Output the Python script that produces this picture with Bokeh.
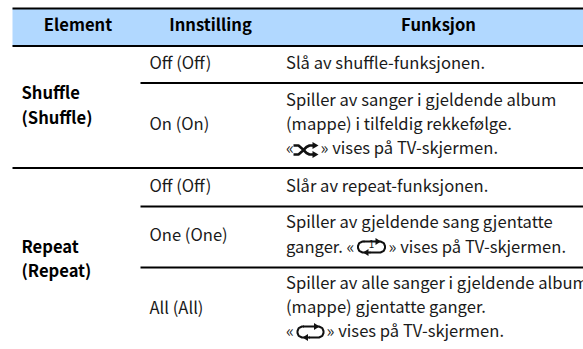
from bokeh.plotting import figure
from bokeh.embed import file_html
from bokeh.resources import INLINE
from bokeh.core.properties import value
from bokeh.models import Range1d

FONT = "Noto Sans CJK JP"
headers = ["Element", "Innstilling", "Funksjon"]
header_x = [77.5, 210, 438]
element_labels = ["Shuffle", "(Shuffle)", "Repeat", "(Repeat)"]
element_y = [91.5, 116, 245.5, 269.5]
setting_labels = ["Off (Off)", "On (On)", "Off (Off)", "One (One)", "All (All)"]
setting_y = [61.5, 122.5, 184.5, 233.5, 306.5]
function_labels = ["Slå av shuffle-funksjonen.", "Spiller av sanger i gjeldende album",
                   "(mappe) i tilfeldig rekkefølge.", "«", "» vises på TV-skjermen.",
                   "Slår av repeat-funksjonen.", "Spiller av gjeldende sang gjentatte",
                   "ganger. «", "» vises på TV-skjermen.",
                   "Spiller av alle sanger i gjeldende album", "(mappe) gjentatte ganger.",
                   "«", "» vises på TV-skjermen."]
function_x = [285.5, 285.5, 285.5, 285.5, 320, 285.5, 285.5, 285.5, 388, 285.5, 285.5, 285.5, 326]
function_y = [61.5, 98.5, 122.5, 146.5, 146.5, 184.5, 220.5, 245, 245, 281, 305.5, 329.5, 329.5]
full_rules_y = [8, 45.5, 167.5]
inner_rules_y = [82.5, 206, 267]

p = figure(width=583, height=349, output_backend="svg", toolbar_location=None,
           x_range=Range1d(0, 583), y_range=Range1d(349, 0),
           min_border=0, outline_line_color=None, background_fill_color="white",
           border_fill_color="white")
p.axis.visible = False
p.grid.visible = False

p.quad(left=[12], right=[583], top=[8], bottom=[45.5], fill_color="#B1D8FF", line_color=None)
p.segment(x0=[12]*3, x1=[583]*3, y0=full_rules_y, y1=full_rules_y, line_color="#000000", line_width=1.8)
p.segment(x0=[140]*3, x1=[583]*3, y0=inner_rules_y, y1=inner_rules_y, line_color="#000000", line_width=1.8)

SIZE = "16.6px"
common = dict(text_font=value(FONT), text_color="#1a1a1a", text_baseline="alphabetic", text_font_size=value(SIZE))
p.text(x=header_x, y=[23.5]*3, text=headers, text_align="center", text_font_style="bold", **{**common, "text_color": "#000000"})
p.text(x=[21]*4, y=element_y, text=element_labels, text_font_style="bold", **{**common, "text_color": "#000000"})
p.text(x=[149]*5, y=setting_y, text=setting_labels, **common)
p.text(x=function_x, y=function_y, text=function_labels, **common)

# Inline icons
def loop(cx, cy, hw, hh, lw=2.0):
    r = hh
    xs = [cx-hw+r+1, cx-hw+r-1, cx-hw+1.2, cx-hw, cx-hw, cx-hw+1.2, cx-hw+r-1, cx-hw+r+7]
    ys = [cy-hh, cy-hh, cy-hh+1.6, cy-1, cy+1, cy+hh-1.6, cy+hh, cy+hh]
    p.line(xs[::-1], ys[::-1], line_color="#111111", line_width=lw)
    xs2 = [cx-hw+r, cx+hw-r+1, cx+hw-1.2, cx+hw, cx+hw, cx+hw-1.2, cx+hw-r+1, cx-hw+r+6]
    ys2 = [cy-hh, cy-hh, cy-hh+1.6, cy-1, cy+1, cy+hh-1.6, cy+hh, cy+hh]
    p.line(xs2, ys2, line_color="#111111", line_width=lw)
    ax = cx + hw - r - 1
    p.patch([ax-3, ax+2.5, ax-3], [cy-hh-3.5, cy-hh, cy-hh+3.5], fill_color="#111111", line_color=None)
    bx = cx - hw + r + 2
    p.patch([bx+3, bx-2.5, bx+3], [cy+hh-3.5, cy+hh, cy+hh+3.5], fill_color="#111111", line_color=None)

loop(310, 331.5, 13, 5.5)
loop(371, 246.5, 13.5, 5.5)
p.text(x=[371], y=[243.5], text=["1"], text_align="center", text_font=value(FONT), text_font_size=value("10px"),
       text_color="#111111", text_baseline="alphabetic")

p.line([293, 298, 302, 306, 309, 313], [145, 145, 148.5, 152.5, 154, 154], line_color="#111111", line_width=2.6)
p.line([293, 298, 302, 306, 309, 313], [154, 154, 150.5, 146.5, 145, 145], line_color="#111111", line_width=2.6)
p.patch([312, 318, 312], [141.5, 145, 148.5], fill_color="#111111", line_color=None)
p.patch([312, 318, 312], [150.5, 154, 157.5], fill_color="#111111", line_color=None)

open("out.html", "w").write(file_html(p, INLINE))
